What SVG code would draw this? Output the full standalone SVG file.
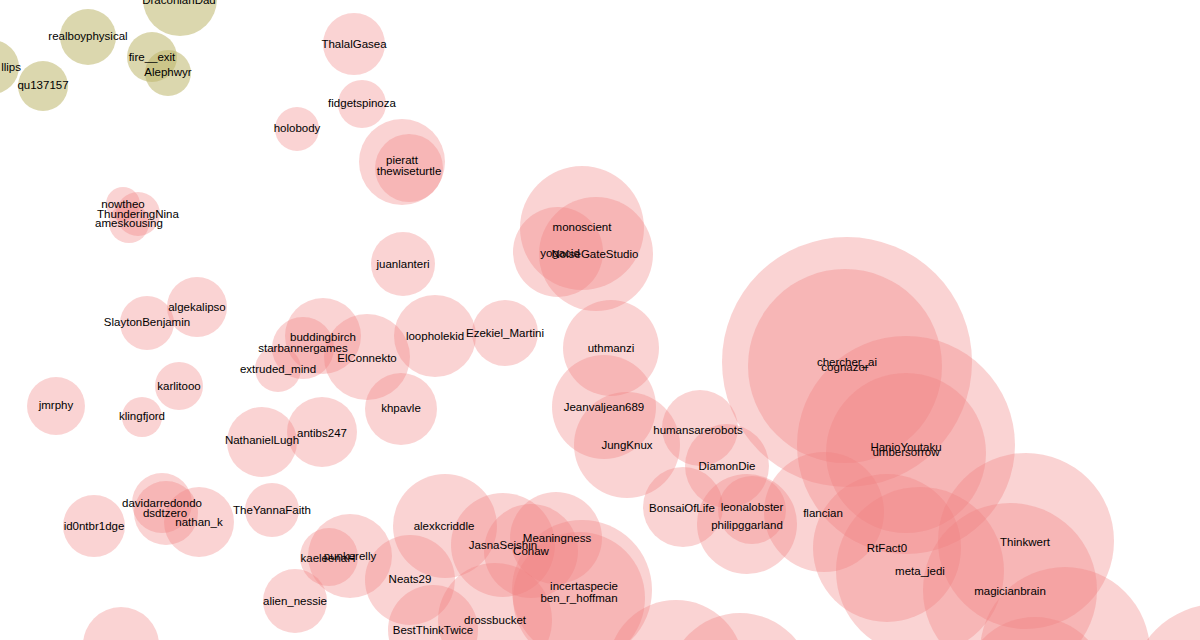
<svg xmlns="http://www.w3.org/2000/svg" width="1200" height="640" viewBox="0 0 1200 640">
<style>
.p{fill:#f08080;fill-opacity:0.35}
.o{fill:#bdb76b;fill-opacity:0.55}
text{font-family:"Liberation Sans",Arial,Helvetica,sans-serif;font-size:11.5px;fill:#000;text-anchor:middle}
</style>
<rect width="1200" height="640" fill="#fff"/>
<g id="nodes">
<g id="n-DraconianDad"><circle class="o" cx="180" cy="-1" r="37"/></g>
<g id="n-realboyphysical"><circle class="o" cx="88" cy="37" r="28"/></g>
<g id="n-fire__exit"><circle class="o" cx="152" cy="57" r="25"/></g>
<g id="n-Alephwyr"><circle class="o" cx="168" cy="73" r="23"/></g>
<g id="n-llips"><circle class="o" cx="-8" cy="67" r="27"/></g>
<g id="n-qu137157"><circle class="o" cx="43" cy="86" r="25"/></g>
<g id="n-ThalalGasea"><circle class="p" cx="354" cy="44" r="31"/></g>
<g id="n-fidgetspinoza"><circle class="p" cx="362" cy="104" r="24"/></g>
<g id="n-holobody"><circle class="p" cx="297" cy="129" r="22"/></g>
<g id="n-pieratt"><circle class="p" cx="402" cy="162" r="43"/></g>
<g id="n-thewiseturtle"><circle class="p" cx="409" cy="168" r="34"/></g>
<g id="n-nowtheo"><circle class="p" cx="123" cy="204" r="17"/></g>
<g id="n-ThunderingNina"><circle class="p" cx="138" cy="214" r="22"/></g>
<g id="n-ameskousing"><circle class="p" cx="129" cy="223" r="20"/></g>
<g id="n-juanlanteri"><circle class="p" cx="403" cy="264" r="32"/></g>
<g id="n-monoscient"><circle class="p" cx="582" cy="228" r="62"/></g>
<g id="n-yogacid"><circle class="p" cx="558" cy="252" r="45"/></g>
<g id="n-NoiseGateStudio"><circle class="p" cx="596" cy="254" r="57"/></g>
<g id="n-SlaytonBenjamin"><circle class="p" cx="147" cy="323" r="27"/></g>
<g id="n-algekalipso"><circle class="p" cx="197" cy="307" r="30"/></g>
<g id="n-buddingbirch"><circle class="p" cx="323" cy="336" r="38"/></g>
<g id="n-starbannergames"><circle class="p" cx="303" cy="348" r="31"/></g>
<g id="n-extruded_mind"><circle class="p" cx="278" cy="369" r="23"/></g>
<g id="n-ElConnekto"><circle class="p" cx="367" cy="357" r="43"/></g>
<g id="n-loopholekid"><circle class="p" cx="435" cy="336" r="41"/></g>
<g id="n-Ezekiel_Martini"><circle class="p" cx="505" cy="333" r="33"/></g>
<g id="n-uthmanzi"><circle class="p" cx="611" cy="348" r="48"/></g>
<g id="n-khpavle"><circle class="p" cx="401" cy="409" r="36"/></g>
<g id="n-karlitooo"><circle class="p" cx="179" cy="386" r="24"/></g>
<g id="n-klingfjord"><circle class="p" cx="142" cy="417" r="20"/></g>
<g id="n-jmrphy"><circle class="p" cx="56" cy="406" r="29"/></g>
<g id="n-NathanielLugh"><circle class="p" cx="262" cy="442" r="35"/></g>
<g id="n-antibs247"><circle class="p" cx="322" cy="432" r="35"/></g>
<g id="n-Jeanvaljean689"><circle class="p" cx="604" cy="407" r="52"/></g>
<g id="n-JungKnux"><circle class="p" cx="627" cy="445" r="53"/></g>
<g id="n-humansarerobots"><circle class="p" cx="700" cy="428" r="38"/></g>
<g id="n-DiamonDie"><circle class="p" cx="727" cy="466" r="42"/></g>
<g id="n-BonsaiOfLife"><circle class="p" cx="683" cy="507" r="40"/></g>
<g id="n-leonalobster"><circle class="p" cx="752" cy="510" r="34"/></g>
<g id="n-philipggarland"><circle class="p" cx="747" cy="524" r="50"/></g>
<g id="n-chercher_ai"><circle class="p" cx="847" cy="362" r="125"/></g>
<g id="n-cognazor"><circle class="p" cx="845" cy="366" r="97"/></g>
<g id="n-HanioYoutaku"><circle class="p" cx="906" cy="445" r="109"/></g>
<g id="n-umbersorrow"><circle class="p" cx="906" cy="453" r="80"/></g>
<g id="n-flancian"><circle class="p" cx="824" cy="512" r="60"/></g>
<g id="n-RtFact0"><circle class="p" cx="887" cy="548" r="74"/></g>
<g id="n-meta_jedi"><circle class="p" cx="920" cy="571" r="84"/></g>
<g id="n-Thinkwert"><circle class="p" cx="1026" cy="541" r="88"/></g>
<g id="n-magicianbrain"><circle class="p" cx="1010" cy="590" r="87"/></g>
<g id="n-b1"><circle class="p" cx="1065" cy="652" r="85"/></g>
<g id="n-b2"><circle class="p" cx="1035" cy="690" r="73"/></g>
<g id="n-b3"><circle class="p" cx="1218" cy="692" r="88"/></g>
<g id="n-b4"><circle class="p" cx="676" cy="668" r="68"/></g>
<g id="n-b5"><circle class="p" cx="740" cy="685" r="72"/></g>
<g id="n-b6"><circle class="p" cx="121" cy="645" r="38"/></g>
<g id="n-id0ntbr1dge"><circle class="p" cx="94" cy="526" r="31"/></g>
<g id="n-davidarredondo"><circle class="p" cx="162" cy="503" r="30"/></g>
<g id="n-dsdtzero"><circle class="p" cx="166" cy="513" r="32"/></g>
<g id="n-nathan_k"><circle class="p" cx="199" cy="522" r="35"/></g>
<g id="n-TheYannaFaith"><circle class="p" cx="272" cy="510" r="27"/></g>
<g id="n-kaeleenaH"><circle class="p" cx="329" cy="557" r="29"/></g>
<g id="n-punkerelly"><circle class="p" cx="350" cy="556" r="42"/></g>
<g id="n-alien_nessie"><circle class="p" cx="295" cy="601" r="32"/></g>
<g id="n-alexkcriddle"><circle class="p" cx="445" cy="526" r="52"/></g>
<g id="n-JasnaSeishin"><circle class="p" cx="503" cy="545" r="52"/></g>
<g id="n-Meaningness"><circle class="p" cx="556" cy="538" r="46"/></g>
<g id="n-Conaw"><circle class="p" cx="531" cy="551" r="47"/></g>
<g id="n-Neats29"><circle class="p" cx="410" cy="580" r="45"/></g>
<g id="n-incertaspecie"><circle class="p" cx="582" cy="590" r="70"/></g>
<g id="n-ben_r_hoffman"><circle class="p" cx="579" cy="598" r="66"/></g>
<g id="n-drossbucket"><circle class="p" cx="495" cy="620" r="57"/></g>
<g id="n-BestThinkTwice"><circle class="p" cx="433" cy="630" r="45"/></g>
</g>
<g id="labels">
<text x="179" y="4">DraconianDad</text>
<text x="88" y="40">realboyphysical</text>
<text x="152" y="61">fire__exit</text>
<text x="168" y="76">Alephwyr</text>
<text x="21" y="71" style="text-anchor:end">llips</text>
<text x="43" y="89">qu137157</text>
<text x="354" y="48">ThalalGasea</text>
<text x="362" y="107">fidgetspinoza</text>
<text x="297" y="132">holobody</text>
<text x="402" y="164">pieratt</text>
<text x="409" y="175">thewiseturtle</text>
<text x="123" y="208">nowtheo</text>
<text x="138" y="218">ThunderingNina</text>
<text x="129" y="227">ameskousing</text>
<text x="403" y="268">juanlanteri</text>
<text x="582" y="231">monoscient</text>
<text x="560" y="257">yogacid</text>
<text x="595" y="258">NoiseGateStudio</text>
<text x="147" y="326">SlaytonBenjamin</text>
<text x="197" y="311">algekalipso</text>
<text x="323" y="341">buddingbirch</text>
<text x="303" y="352">starbannergames</text>
<text x="278" y="373">extruded_mind</text>
<text x="367" y="362">ElConnekto</text>
<text x="435" y="340">loopholekid</text>
<text x="505" y="337">Ezekiel_Martini</text>
<text x="611" y="352">uthmanzi</text>
<text x="401" y="412">khpavle</text>
<text x="179" y="390">karlitooo</text>
<text x="142" y="420">klingfjord</text>
<text x="56" y="409">jmrphy</text>
<text x="262" y="444">NathanielLugh</text>
<text x="322" y="437">antibs247</text>
<text x="604" y="411">Jeanvaljean689</text>
<text x="627" y="449">JungKnux</text>
<text x="698" y="434">humansarerobots</text>
<text x="727" y="470">DiamonDie</text>
<text x="682" y="512">BonsaiOfLife</text>
<text x="752" y="511">leonalobster</text>
<text x="747" y="529">philipggarland</text>
<text x="847" y="366">chercher_ai</text>
<text x="845" y="371">cognazor</text>
<text x="906" y="451">HanioYoutaku</text>
<text x="906" y="456">umbersorrow</text>
<text x="823" y="517">flancian</text>
<text x="887" y="552">RtFact0</text>
<text x="920" y="575">meta_jedi</text>
<text x="1025" y="546">Thinkwert</text>
<text x="1010" y="595">magicianbrain</text>
<text x="94" y="530">id0ntbr1dge</text>
<text x="162" y="507">davidarredondo</text>
<text x="165" y="517">dsdtzero</text>
<text x="199" y="526">nathan_k</text>
<text x="272" y="514">TheYannaFaith</text>
<text x="328" y="562">kaeleenaH</text>
<text x="350" y="560">punkerelly</text>
<text x="295" y="605">alien_nessie</text>
<text x="444" y="530">alexkcriddle</text>
<text x="503" y="549">JasnaSeishin</text>
<text x="557" y="542">Meaningness</text>
<text x="531" y="555">Conaw</text>
<text x="410" y="583">Neats29</text>
<text x="584" y="590">incertaspecie</text>
<text x="579" y="602">ben_r_hoffman</text>
<text x="495" y="624">drossbucket</text>
<text x="433" y="634">BestThinkTwice</text>
</g>
<g id="connectors"/>
</svg>
